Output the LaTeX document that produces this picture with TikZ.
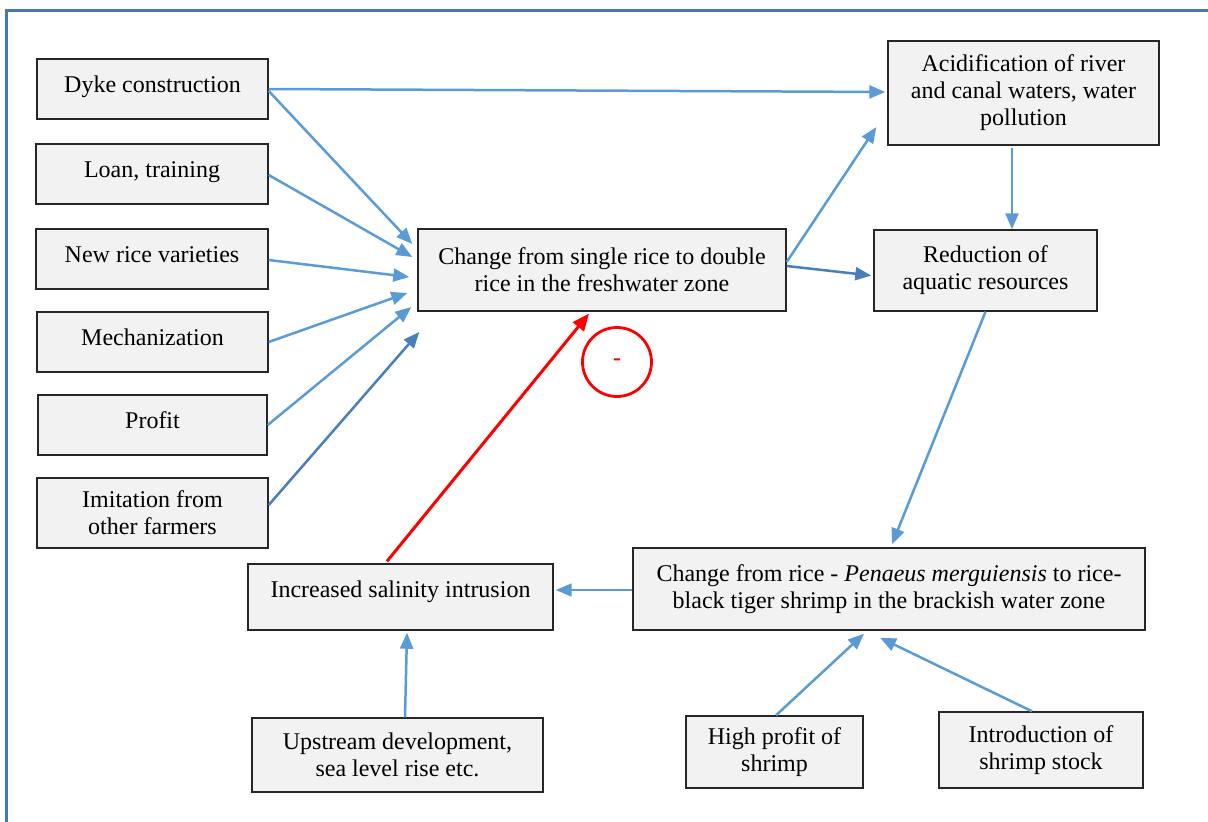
\documentclass[tikz,border=0pt]{standalone}
\usepackage{fontspec}
\setmainfont{Liberation Serif}
\usetikzlibrary{arrows.meta,calc}
\definecolor{boxfill}{HTML}{F2F2F2}
\definecolor{arrblue}{HTML}{5B9BD5}
\definecolor{darkblue}{HTML}{4A7EBB}
\definecolor{frameblue}{HTML}{4A78AE}
\begin{document}
\begin{tikzpicture}[x=1pt,y=-1pt,
  box/.style={draw=black!85,line width=1.4pt,fill=boxfill,inner sep=0pt,align=center,
    font=\fontsize{24}{27}\selectfont},
  oneline/.style={text height=17pt,text depth=11pt},
  arr/.style={draw=arrblue,line width=2.5pt,-{Triangle[length=16pt,width=13pt]}},
  darr/.style={arr,draw=darkblue},
  thinarr/.style={arr,line width=1.5pt},
  redarr/.style={draw=red,line width=3pt,-{Triangle[length=17pt,width=14pt]}}]
\useasboundingbox (0,0) rectangle (1208,822);
\clip (0,0) rectangle (1208,822);
\draw[frameblue,line width=3pt] (6.7,10) rectangle (1240,850);

\node[box,oneline,minimum width=231pt,minimum height=60pt] (dyke) at (152.5,89) {Dyke construction};
\node[box,oneline,minimum width=232pt,minimum height=60pt] (loan) at (152,174) {Loan, training};
\node[box,oneline,minimum width=232pt,minimum height=60pt] (newrice) at (152,259) {New rice varieties};
\node[box,oneline,minimum width=231pt,minimum height=60pt] (mech) at (152.5,342) {Mechanization};
\node[box,oneline,minimum width=229pt,minimum height=60pt] (profit) at (152.5,425) {Profit};
\node[box,minimum width=231pt,minimum height=70pt] (imit) at (152.5,513) {Imitation from\\other farmers};
\node[box,minimum width=368pt,minimum height=82pt] (change) at (602,270) {Change from single rice to double\\rice in the freshwater zone};
\node[box,minimum width=271pt,minimum height=104pt] (acid) at (1023.5,93) {Acidification of river\\and canal waters, water\\pollution};
\node[box,minimum width=223pt,minimum height=81pt] (reduc) at (985.5,270.5) {Reduction of\\aquatic resources};
\node[box,minimum width=512pt,minimum height=82pt] (brack) at (889,589) {Change from rice - \textit{Penaeus merguiensis} to rice-\\black tiger shrimp in the brackish water zone};
\node[box,text height=17pt,text depth=17pt,minimum width=305pt,minimum height=66pt] (salin) at (400.5,597) {Increased salinity intrusion};
\node[box,minimum width=291pt,minimum height=74pt] (upstr) at (397.5,755) {Upstream development,\\sea level rise etc.};
\node[box,minimum width=177pt,minimum height=72pt] (high) at (774.5,752) {High profit of\\shrimp};
\node[box,minimum width=204pt,minimum height=76pt] (intro) at (1041,750) {Introduction of\\shrimp stock};

\node[draw=red,line width=2.8pt,circle,minimum size=69pt,inner sep=0pt,text=red,
  font=\fontsize{24}{27}\selectfont\bfseries] (neg) at (617,362) {-};

% arrows into the freshwater change
\draw[arr] (dyke.east) -- ($(acid.west)+(-2,-1)$);
\draw[arr] ($(dyke.east)+(0,2)$) -- ($(change.west)+(-5,-26)$);
\draw[arr] ($(loan.east)+(0,1)$) -- ($(change.west)+(-5,-13)$);
\draw[arr] ($(newrice.east)+(0,1)$) -- ($(change.west)+(-8,7)$);
\draw[arr] (mech.east) -- ($(change.west)+(-10,23)$);
\draw[arr] (profit.east) -- ($(change.west)+(-6,37)$);
\draw[darr] ($(imit.east)+(0,-8)$) -- ($(change.west)+(2,62)$);

% outputs of the freshwater change
\draw[arr] ($(change.east)+(0,-8)$) -- ($(acid.west)+(-11,34)$);
\draw[darr] ($(change.east)+(0,-4)$) -- ($(reduc.west)+(-2,5)$);
\draw[arr] ($(acid.south)+(-11.5,2)$) -- ($(reduc.north)+(26.5,0)$);
\draw[arr] (reduc.south) -- ($(brack.north)+(3,-3)$);

% brackish zone
\draw[thinarr] ($(brack.west)+(0,1)$) -- ($(salin.east)+(2,-7)$);
\draw[redarr] ($(salin.north)+(-13.5,-2)$) -- ($(change.south)+(-13,2)$);
\draw[arr] ($(upstr.north)+(7.5,0)$) -- ($(salin.south)+(6.5,2)$);
\draw[arr] ($(high.north)+(1.5,0)$) -- ($(brack.south)+(-25,3)$);
\draw[arr] ($(intro.north)+(-9,0)$) -- ($(brack.south)+(-9,7)$);
\end{tikzpicture}
\end{document}
